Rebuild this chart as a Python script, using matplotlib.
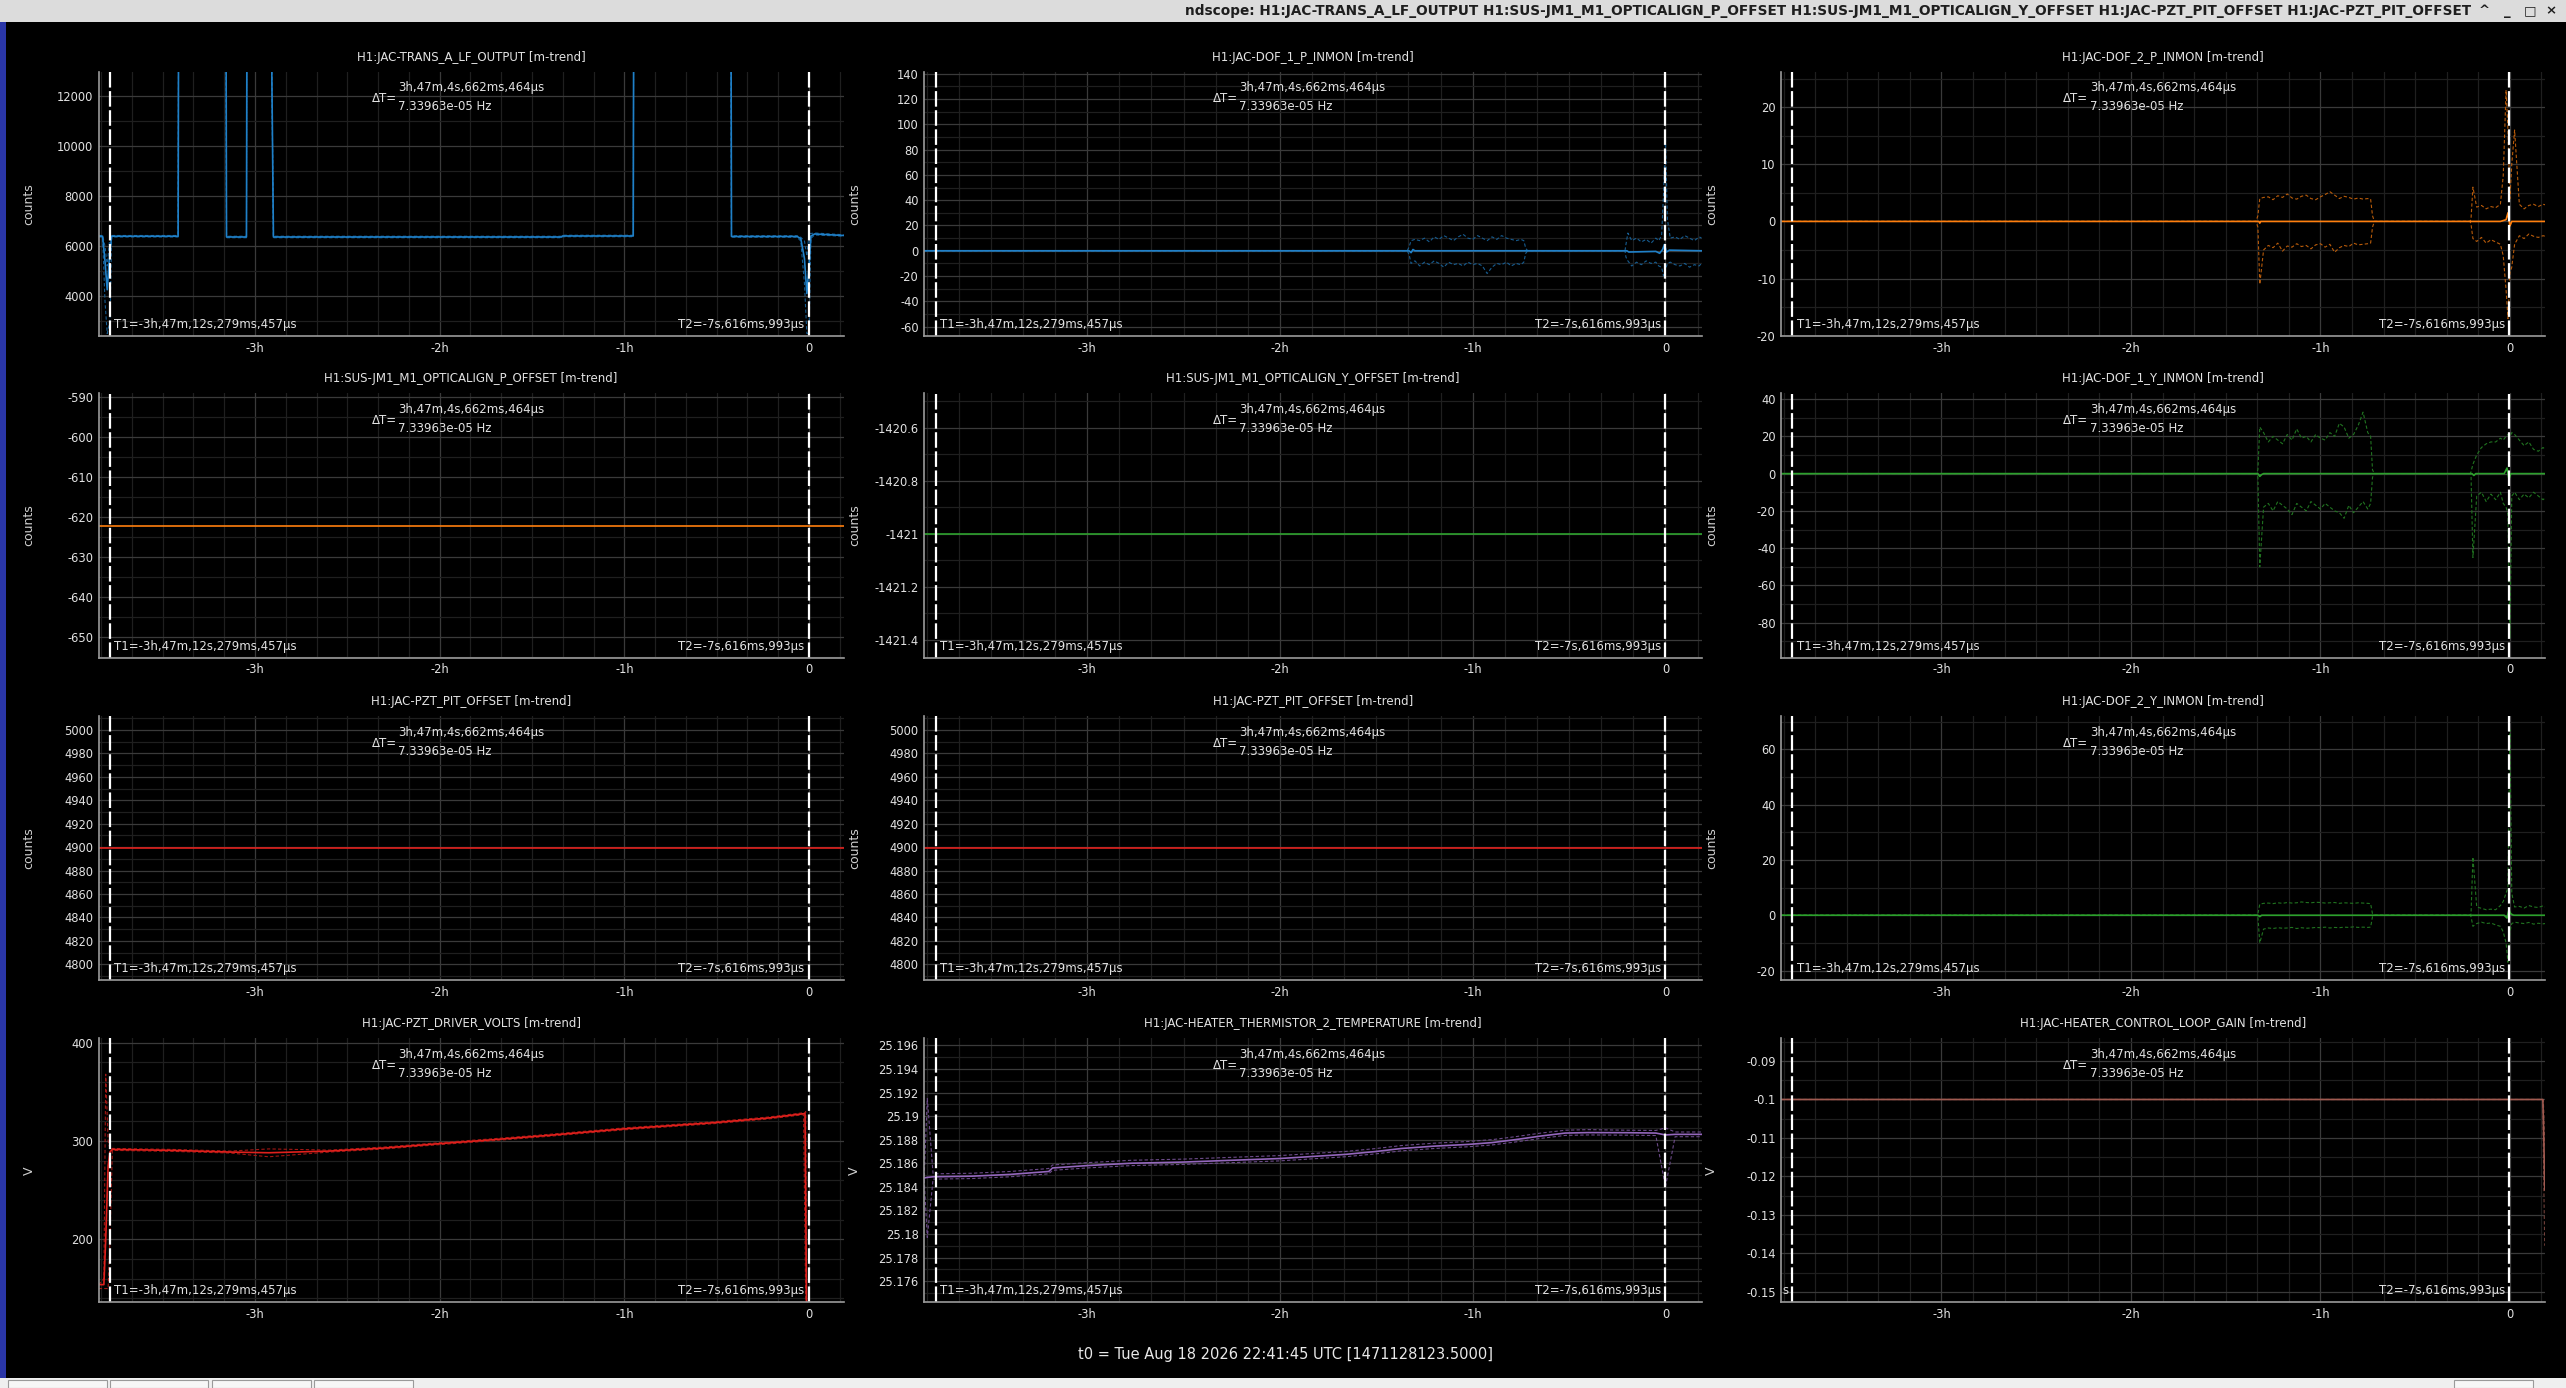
import matplotlib.pyplot as plt
import matplotlib.colors as mcolors
from matplotlib.patches import Rectangle
from matplotlib.ticker import MultipleLocator, FuncFormatter

W, H = 2566, 1388
plt.rcParams['font.family'] = ['DejaVu Sans']

# ---- time axis (hours relative to t0) and cursors ----
XLIM = (-3.846, 0.187)
T1 = -3.78674
T2 = -0.00212
T1_TXT = "T1=-3h,47m,12s,279ms,457µs"
T2_TXT = "T2=-7s,616ms,993µs"
DT_TXT = "3h,47m,4s,662ms,464µs"
DF_TXT = "7.33963e-05 Hz"
T0_TXT = "t0 = Tue Aug 18 2026 22:41:45 UTC [1471128123.5000]"
WIN_TITLE = ("ndscope: H1:JAC-TRANS_A_LF_OUTPUT H1:SUS-JM1_M1_OPTICALIGN_P_OFFSET "
             "H1:SUS-JM1_M1_OPTICALIGN_Y_OFFSET H1:JAC-PZT_PIT_OFFSET H1:JAC-PZT_PIT_OFFSET")

# ---- data ----
HIGH = 20000  # off-scale excursions
trans_t = [-3.846, -3.825, -3.812, -3.800, -3.785, -3.776, -3.416, -3.412, -3.158, -3.154,
           -3.046, -3.042, -2.918, -2.900, -1.340, -1.335, -0.952, -0.948, -0.424, -0.420,
           -0.065, -0.045, -0.025, -0.012, 0.000, 0.010, 0.030, 0.187]
trans_mean = [6390, 6390, 5400, 4250, 5800, 6390, 6390, HIGH, HIGH, 6360,
              6360, HIGH, HIGH, 6360, 6360, 6400, 6400, HIGH, HIGH, 6380,
              6380, 6300, 5500, 4100, 5200, 6400, 6480, 6420]
trans_max = [6420, 6420, 6000, 5200, 6400, 6420, 6420, HIGH, HIGH, 6390,
             6390, HIGH, HIGH, 6390, 6390, 6430, 6430, HIGH, HIGH, 6410,
             6410, 6350, 6200, 5600, 6500, 6500, 6520, 6450]
trans_min = [6360, 6360, 3800, 2500, 3000, 6360, 6360, HIGH, HIGH, 6330,
             6330, HIGH, HIGH, 6330, 6330, 6370, 6370, HIGH, HIGH, 6350,
             6350, 6200, 4500, 2500, 2500, 6300, 6440, 6390]

# shared envelope time base for the DOF channels (two noisy stretches)
blk1_t = [-1.330, -1.320, -1.300, -1.275, -1.250, -1.225, -1.200, -1.175, -1.150, -1.125,
          -1.100, -1.075, -1.050, -1.025, -1.000, -0.975, -0.950, -0.925, -0.900, -0.875,
          -0.850, -0.825, -0.800, -0.775, -0.750, -0.735, -0.725]
blk2_t = [-0.205, -0.195, -0.175, -0.150, -0.125, -0.100, -0.075, -0.050, -0.035, -0.020,
          -0.010, 0.000, 0.010, 0.025, 0.050, 0.075, 0.100, 0.125, 0.150, 0.175, 0.187]
env_t = [-3.846, -1.340] + blk1_t + [-0.715, -0.210] + blk2_t

dof1p_t = [-3.846, -1.330, -1.320, -1.310, -1.300, -0.200, -0.190, -0.050, -0.030, -0.015,
           -0.005, 0.005, 0.020, 0.187]
dof1p_mean = [0, 0, -1.5, 1, 0, 0, -1, -0.5, -2, 1, 5, -1, 0.5, 0]
dof1p_max = [0, 0] + [3, 8, 9, 8, 10, 7, 11, 9, 12, 10, 8, 11, 13, 10, 9, 12, 10, 8, 11, 9,
                      12, 10, 9, 8, 9, 8, 2] + [0, 0] + \
            [5, 14, 8, 10, 7, 9, 6, 10, 8, 12, 45, 90, 25, 10, 11, 9, 12, 10, 8, 11, 10]
dof1p_min = [0, 0] + [-3, -10, -8, -12, -9, -11, -8, -10, -13, -9, -11, -10, -12, -9, -11, -10,
                      -12, -18, -13, -10, -11, -9, -12, -10, -11, -9, -2] + [0, 0] + \
            [-5, -8, -12, -9, -11, -8, -10, -9, -12, -13, -20, -15, -10, -9, -11, -12, -10,
             -13, -11, -12, -10]

dof2p_t = [-3.846, -1.325, -1.320, -1.315, -0.050, -0.020, -0.010, 0.000, 0.010, 0.187]
dof2p_mean = [0, 0, -0.3, 0, 0, 0.3, 1.5, -0.8, 0, 0]
dof2p_max = [0, 0] + [1, 4.0, 4.2, 4.3, 3.8, 4.5, 4.2, 4.8, 4.1, 3.9, 4.4, 4.6, 4.0, 3.8, 4.3,
                      4.7, 5.2, 4.6, 4.0, 4.4, 4.2, 3.9, 4.1, 3.9, 4.0, 3.9, 1] + [0, 0] + \
            [0.5, 6.0, 2.5, 2.8, 2.2, 2.6, 2.4, 3.0, 8.0, 23.0, 16.0, 4.0, 10.0, 16.0, 3.0,
             2.2, 2.8, 3.0, 2.6, 3.0, 2.9]
dof2p_min = [0, 0] + [-1, -11, -5.0, -4.2, -4.6, -3.8, -5.2, -4.3, -4.5, -3.9, -4.4, -4.2, -4.8,
                      -4.1, -3.9, -4.5, -4.0, -5.4, -4.6, -4.2, -4.4, -3.8, -4.1, -4.0, -3.9,
                      -3.8, -1] + [0, 0] + \
            [-0.5, -3.0, -3.5, -2.8, -3.8, -3.2, -3.6, -4.0, -6.0, -12.0, -17.0, -9.0, -8.0,
             -4.0, -2.5, -3.0, -2.2, -2.6, -2.8, -2.5, -2.6]

optp_t = [-3.846, 0.187]
optp_val = [-622.4, -622.4]
opty_t = [-3.846, 0.187]
opty_val = [-1421.0, -1421.0]

dof1y_t = [-3.846, -1.330, -1.320, -1.310, -1.300, -0.730, -0.200, -0.190, -0.180, -0.030,
           -0.015, -0.005, 0.005, 0.015, 0.187]
dof1y_mean = [0, 0, -1.5, -0.5, 0, 0, 0, -1, 0, 0, 3, -3, 0, 0, 0]
dof1y_max = [0, 0] + [2, 25, 22, 17, 20, 18, 16, 21, 18, 24, 19, 20, 17, 21, 19, 18, 22, 20, 27,
                      25, 19, 21, 26, 33, 22, 20, 2] + [0, 0] + \
            [1, 5, 10, 14, 16, 17, 17, 19, 18, 20, 21, 20, 22, 21, 18, 15, 17, 13, 12, 14, 13]
dof1y_min = [0, 0] + [-2, -50, -18, -16, -20, -15, -17, -19, -22, -16, -18, -20, -15, -17, -19,
                      -16, -18, -20, -21, -24, -17, -21, -18, -15, -19, -16, -2] + [0, 0] + \
            [-1, -45, -12, -10, -15, -11, -14, -10, -16, -18, -22, -88, -12, -10, -14, -11,
             -13, -10, -12, -14, -13]

pit_t = [-3.846, 0.187]
pit_val = [4899, 4899]

dof2y_t = [-3.846, -1.330, -1.320, -1.310, -0.200, -0.030, -0.015, -0.005, 0.005, 0.020, 0.187]
dof2y_mean = [0, 0, -0.5, 0, 0, 0, -1.0, 2.0, 0.5, 0, 0]
dof2y_max = [0, 0] + [0.5, 4.0, 4.3, 4.4, 4.2, 4.5, 4.3, 4.6, 4.4, 4.5, 4.8, 4.6, 4.5, 4.7, 4.6,
                      4.4, 4.5, 4.6, 4.3, 4.5, 4.4, 4.3, 4.5, 4.4, 4.3, 4.2, 0.5] + [0, 0] + \
            [0.5, 21, 3.0, 2.5, 2.0, 2.2, 2.0, 3.5, 5.0, 8.0, 10.0, 67.0, 8.0, 3.0, 3.2, 2.6,
             3.5, 3.0, 2.8, 3.4, 3.0]
dof2y_min = [0, 0] + [-0.5, -10, -5.0, -4.6, -4.8, -4.5, -4.7, -4.6, -4.4, -4.8, -4.5, -4.7,
                      -4.6, -4.4, -4.5, -4.3, -4.6, -4.4, -4.5, -4.3, -4.4, -4.2, -4.4, -4.3,
                      -4.4, -4.3, -0.5] + [0, 0] + \
            [-0.5, -4, -3.0, -2.5, -3.0, -2.8, -3.5, -4.0, -6.0, -10.0, -17.0, -6.0, -3.0,
             -2.5, -2.8, -3.0, -2.6, -3.2, -2.9, -3.1, -3.0]

drv_t = [-3.846, -3.818, -3.808, -3.795, -3.785, -3.772, -3.450, -3.133, -2.925, -2.599,
         -2.302, -2.005, -1.708, -1.411, -0.995, -0.520, -0.223, -0.030, -0.022, -0.018, -0.014]
drv_mean = [154, 154, 200, 275, 289, 291.5, 290.5, 288.8, 288.1, 289.8,
            292.9, 297.3, 301.4, 305.8, 312.5, 318.6, 323.4, 327.8, 328, 240, 137]
drv_max = [154, 160, 368, 300, 292, 292.5, 291.5, 289.8, 292, 290.8,
           293.9, 298.3, 302.4, 306.8, 313.5, 319.6, 324.4, 328.8, 329, 330, 137]
drv_min = [150, 150, 150, 150, 200, 290.5, 289.5, 287.8, 284, 288.8,
           291.9, 296.3, 300.4, 304.8, 311.5, 317.6, 322.4, 326.8, 200, 137, 137]

therm_t = [-3.846, -3.830, -3.800, -3.600, -3.400, -3.200, -3.180, -3.000, -2.770, -2.500,
           -2.250, -2.000, -1.660, -1.500, -1.370, -1.200, -1.020, -0.900, -0.780, -0.650,
           -0.520, -0.400, -0.200, -0.050, 0.000, 0.050, 0.187]
therm_mean = [25.18475, 25.18480, 25.18485, 25.18490, 25.18505, 25.18530, 25.18560, 25.18580,
              25.18600, 25.18610, 25.18625, 25.18640, 25.18675, 25.18700, 25.18725, 25.18745,
              25.18760, 25.18775, 25.18800, 25.18830, 25.18856, 25.18860, 25.18859, 25.18856,
              25.18840, 25.18845, 25.18845]
therm_max = [25.18490, 25.19150, 25.18510, 25.18515, 25.18530, 25.18555, 25.18585, 25.18605,
             25.18625, 25.18635, 25.18650, 25.18665, 25.18700, 25.18725, 25.18750, 25.18770,
             25.18785, 25.18800, 25.18825, 25.18855, 25.18880, 25.18885, 25.18880, 25.18878,
             25.18900, 25.18865, 25.18865]
therm_min = [25.18460, 25.17970, 25.18465, 25.18470, 25.18485, 25.18510, 25.18540, 25.18560,
             25.18580, 25.18590, 25.18605, 25.18620, 25.18655, 25.18680, 25.18705, 25.18725,
             25.18740, 25.18755, 25.18780, 25.18810, 25.18836, 25.18840, 25.18838, 25.18835,
             25.18400, 25.18825, 25.18825]

gain_t = [-3.846, 0.174, 0.176, 0.180, 0.184]
gain_mean = [-0.100, -0.100, -0.104, -0.112, -0.1235]
gain_max = [-0.100, -0.100, -0.100, -0.104, -0.112]
gain_min = [-0.100, -0.100, -0.110, -0.125, -0.138]

# ---- panel specs: (title, unit, color, ylim, major, minor, t, mean, t_env, max, min) ----
panels = [
    ("H1:JAC-TRANS_A_LF_OUTPUT [m-trend]", "counts", "#1f80c8", (2400, 12970), 2000, 1000,
     trans_t, trans_mean, trans_t, trans_max, trans_min),
    ("H1:JAC-DOF_1_P_INMON [m-trend]", "counts", "#1f80c8", (-67.4, 141.6), 20, 10,
     dof1p_t, dof1p_mean, env_t, dof1p_max, dof1p_min),
    ("H1:JAC-DOF_2_P_INMON [m-trend]", "counts", "#ff7f0e", (-20.05, 26.2), 10, 5,
     dof2p_t, dof2p_mean, env_t, dof2p_max, dof2p_min),
    ("H1:SUS-JM1_M1_OPTICALIGN_P_OFFSET [m-trend]", "counts", "#ff7f0e", (-655.3, -589.2), 10, 5,
     optp_t, optp_val, None, None, None),
    ("H1:SUS-JM1_M1_OPTICALIGN_Y_OFFSET [m-trend]", "counts", "#2ca02c", (-1421.467, -1420.470), 0.2, 0.1,
     opty_t, opty_val, None, None, None),
    ("H1:JAC-DOF_1_Y_INMON [m-trend]", "counts", "#2ca02c", (-98.8, 43.1), 20, 10,
     dof1y_t, dof1y_mean, env_t, dof1y_max, dof1y_min),
    ("H1:JAC-PZT_PIT_OFFSET [m-trend]", "counts", "#e0201c", (4786.6, 5012), 20, 10,
     pit_t, pit_val, None, None, None),
    ("H1:JAC-PZT_PIT_OFFSET [m-trend]", "counts", "#e0201c", (4786.6, 5012), 20, 10,
     pit_t, pit_val, None, None, None),
    ("H1:JAC-DOF_2_Y_INMON [m-trend]", "counts", "#2ca02c", (-23.4, 72), 20, 10,
     dof2y_t, dof2y_mean, env_t, dof2y_max, dof2y_min),
    ("H1:JAC-PZT_DRIVER_VOLTS [m-trend]", "V", "#e0201c", (136, 404.5), 100, 20,
     drv_t, drv_mean, drv_t, drv_max, drv_min),
    ("H1:JAC-HEATER_THERMISTOR_2_TEMPERATURE [m-trend]", "V", "#9467bd", (25.1742, 25.1966), 0.002, 0.001,
     therm_t, therm_mean, therm_t, therm_max, therm_min),
    ("H1:JAC-HEATER_CONTROL_LOOP_GAIN [m-trend]", "V", "#a05a50", (-0.1527, -0.0841), 0.01, 0.005,
     gain_t, gain_mean, gain_t, gain_max, gain_min),
]

# layout in pixels
cols = [(98.7, 843.6), (924.2, 1701.5), (1781.2, 2545.3)]
rows = [(71.7, 336.0), (393.3, 657.7), (716.0, 980.0), (1038.3, 1302.3)]

TXT = "#e2e2e2"


def yfmt(v, pos):
    v = round(v, 6) + 0.0
    return f"{v:.7g}"


def xfmt(v, pos):
    if abs(v) < 1e-9:
        return "0"
    return f"{int(round(v))}h"


fig = plt.figure(figsize=(W / 100, H / 100), dpi=100, facecolor="black")

for i, (title, unit, color, ylim, major, minor, t, mean, te, vmax, vmin) in enumerate(panels):
    r, c = divmod(i, 3)
    x0, x1 = cols[c]
    y0, y1 = rows[r]
    ax = fig.add_axes([x0 / W, 1 - y1 / H, (x1 - x0) / W, (y1 - y0) / H])
    ax.set_facecolor("black")
    ax.set_xlim(*XLIM)
    ax.set_ylim(*ylim)

    ax.xaxis.set_major_locator(MultipleLocator(1))
    ax.xaxis.set_minor_locator(MultipleLocator(1 / 6))
    ax.yaxis.set_major_locator(MultipleLocator(major))
    ax.yaxis.set_minor_locator(MultipleLocator(minor))
    ax.xaxis.set_major_formatter(FuncFormatter(xfmt))
    ax.yaxis.set_major_formatter(FuncFormatter(yfmt))
    ax.grid(which="major", color="#3a3a3a", lw=0.9)
    ax.grid(which="minor", color="#1f1f1f", lw=0.9)
    ax.set_axisbelow(True)
    ax.tick_params(which="both", length=0, colors=TXT, labelsize=8.3, pad=4)
    for s in ("top", "right"):
        ax.spines[s].set_visible(False)
    for s in ("left", "bottom"):
        ax.spines[s].set_color("#9a9a9a")
        ax.spines[s].set_linewidth(1.2)

    dark = [ch * 0.72 for ch in mcolors.to_rgb(color)]
    if te is not None:
        ax.plot(te, vmax, color=dark, lw=0.8, dashes=(3, 2))
        ax.plot(te, vmin, color=dark, lw=0.8, dashes=(3, 2))
    ax.plot(t, mean, color=color, lw=1.2)

    # cursors
    for tc in (T1, T2):
        ax.axvline(tc, color="white", lw=1.6, dashes=(7, 1.6))
    xt = ax.get_xaxis_transform()
    if i == 11:
        # only the tail of the T1 label peeks out left of the cursor here
        ax.annotate(T1_TXT[-1], xy=(T1, 0.044), xycoords=xt, xytext=(-3, 0),
                    textcoords="offset points", ha="right", va="center",
                    color=TXT, fontsize=8.5)
    else:
        ax.annotate(T1_TXT, xy=(T1, 0.044), xycoords=xt, xytext=(3, 0),
                    textcoords="offset points", ha="left", va="center",
                    color=TXT, fontsize=8.5)
    ax.annotate(T2_TXT, xy=(T2, 0.044), xycoords=xt, xytext=(-3, 0),
                textcoords="offset points", ha="right", va="center",
                color=TXT, fontsize=8.5)
    mid = (T1 + T2) / 2
    ax.annotate("ΔT=", xy=(mid, 1), xycoords=xt, xytext=(-45, -19.5),
                textcoords="offset points", ha="right", va="center",
                color=TXT, fontsize=8.5)
    ax.annotate(DT_TXT, xy=(mid, 1), xycoords=xt, xytext=(-44, -11.7),
                textcoords="offset points", ha="left", va="center",
                color=TXT, fontsize=8.5)
    ax.annotate(DF_TXT, xy=(mid, 1), xycoords=xt, xytext=(-44, -25.4),
                textcoords="offset points", ha="left", va="center",
                color=TXT, fontsize=8.5)

    ax.set_ylabel(unit, color="#cfcfcf", fontsize=9)
    ax.yaxis.set_label_coords(-63.0 / (x1 - x0), 0.5)
    fig.text((x0 + x1) / 2 / W, 1 - (y0 - 14.5) / H, title, ha="center", va="center",
             color=TXT, fontsize=8.5)

fig.text(1285 / W, 1 - 1354 / H, T0_TXT, ha="center", va="center", color="#e8e8e8",
         fontsize=10.5)

# window chrome: title bar, left desktop strip, bottom tab strip
fig.add_artist(Rectangle((0, 1 - 22 / H), 1, 22 / H, transform=fig.transFigure,
                         facecolor="#dcdcdc", edgecolor="none"))
fig.text(2471 / W, 1 - 11 / H, WIN_TITLE, ha="right", va="center", color="#1e1e1e",
         fontsize=9.8, fontweight="bold")
for xb, ch in zip([2484, 2507, 2530, 2551], ["^", "_", "□", "×"]):
    fig.text(xb / W, 1 - 11 / H, ch, ha="center", va="center", color="#1e1e1e",
             fontsize=9.5, fontweight="bold")
fig.add_artist(Rectangle((0, 0), 6 / W, 1 - 22 / H, transform=fig.transFigure,
                         facecolor="#2a36a8", edgecolor="none"))
fig.add_artist(Rectangle((0, 0), 1, 10 / H, transform=fig.transFigure,
                         facecolor="#efefef", edgecolor="none"))
for xa, xb in [(8, 107), (110, 208), (212, 311), (314, 413), (2454, 2533)]:
    fig.add_artist(Rectangle((xa / W, 0), (xb - xa) / W, 8 / H, transform=fig.transFigure,
                             facecolor="#f7f7f7", edgecolor="#9a9a9a", lw=0.8))

fig.savefig("out.png", dpi=100, facecolor="black")
